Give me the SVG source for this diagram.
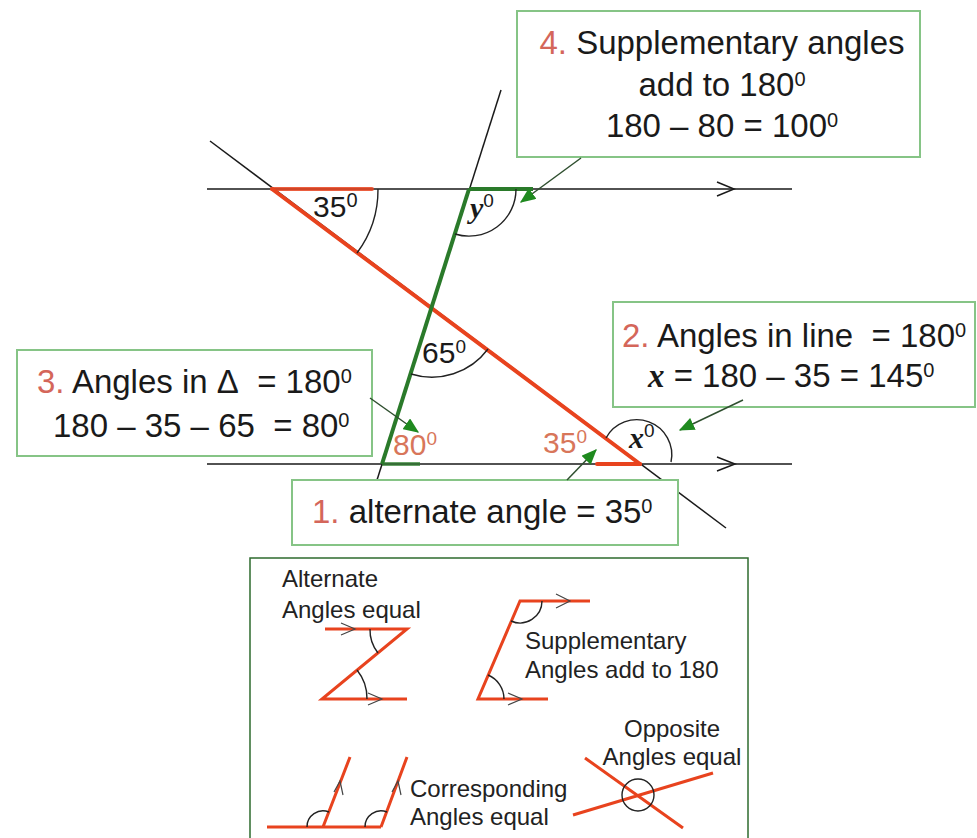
<svg xmlns="http://www.w3.org/2000/svg" width="977" height="838" viewBox="0 0 977 838">
<defs>
<style>
.thin{fill:none;stroke:#1a1a1a;stroke-width:1.5}
.arc{fill:none;stroke:#222;stroke-width:1.4}
.red{fill:none;stroke:#e8431e;stroke-width:4;stroke-linecap:round}
.redl{fill:none;stroke:#e8431e;stroke-width:3}
.grn{fill:none;stroke:#2a7a2a;stroke-width:4}
.box{fill:#fff;stroke:#86c486;stroke-width:2}
.t{font-family:"Liberation Sans",Arial,sans-serif;font-size:33px;fill:#1a1a1a}
.lab{font-family:"Liberation Sans",Arial,sans-serif;font-size:30px;fill:#1a1a1a}
.or{fill:#d8765a}
.num{fill:#d4665a}
.sup{font-size:20px}
.var{font-family:"Liberation Serif","Times New Roman",serif;font-style:italic;font-weight:bold}
.lg{font-family:"Liberation Sans",Arial,sans-serif;font-size:24px;fill:#222}
.conn{fill:none;stroke:#2f4f2f;stroke-width:1.5}
.chev{fill:none;stroke:#444;stroke-width:1.2}
</style>
<marker id="ah" viewBox="0 0 12 10" refX="11" refY="5" markerWidth="16" markerHeight="13" markerUnits="userSpaceOnUse" orient="auto">
<path d="M0,0 L12,5 L0,10 Z" fill="#1f8a1f"/>
</marker>
</defs>
<rect width="977" height="838" fill="#fff"/>

<g id="figure">
<path class="thin" d="M207,189 H792 M207,464 H792"/>
<path class="thin" d="M717,182 L734,189 L717,196 M717,457 L735,464 L717,471"/>
<path class="thin" d="M210,141 L726,528"/>
<path class="thin" d="M501,90 L377,480"/>
<path class="red" d="M272,189 L640,464"/>
<path class="red" d="M272,189 H372" stroke-opacity="0.85"/>
<path class="red" d="M597,464 H640"/>
<path class="grn" d="M469,189 L382,464"/>
<path class="grn" d="M469,189 H533" stroke-width="3"/>
<path class="grn" d="M382,464 H420" stroke-width="3" stroke-opacity="0.7"/>
</g>

<g id="angles">
<path class="arc" d="M378,189 A106 106 0 0 1 357,253"/>
<path class="arc" d="M516,189 A47 47 0 0 1 455,234"/>
<path class="arc" d="M488,349 A70 70 0 0 1 411,374"/>
<path class="arc" d="M606,438 A35 35 0 0 1 671,462"/>
<text class="lab" x="313" y="217">35<tspan class="sup" font-size="19" dy="-10">0</tspan></text>
<text class="lab" x="470" y="218"><tspan class="var">y</tspan><tspan font-size="19" dy="-11">0</tspan></text>
<text class="lab" x="422" y="363">65<tspan font-size="19" dy="-10">0</tspan></text>
<text class="lab or" x="393" y="455">80<tspan font-size="19" dy="-10">0</tspan></text>
<text class="lab or" x="543" y="453">35<tspan font-size="19" dy="-10">0</tspan></text>
<text class="lab" x="629" y="448"><tspan class="var">x</tspan><tspan font-size="19" dy="-11">0</tspan></text>
</g>

<g id="box4">
<rect class="box" x="517" y="11" width="403" height="146"/>
<text class="t" x="722" y="54" text-anchor="middle"><tspan class="num">4.</tspan> Supplementary angles</text>
<text class="t" x="722" y="96" text-anchor="middle">add to 180<tspan class="sup" dy="-10">0</tspan></text>
<text class="t" x="722" y="137" text-anchor="middle">180 – 80 = 100<tspan class="sup" dy="-10">0</tspan></text>
</g>

<g id="box3">
<rect class="box" x="17" y="350" width="355" height="106"/>
<text class="t" x="37" y="393"><tspan class="num">3.</tspan> Angles in Δ&#160; = 180<tspan class="sup" dy="-10">0</tspan></text>
<text class="t" x="53" y="437">180 – 35 – 65&#160; = 80<tspan class="sup" dy="-10">0</tspan></text>
</g>

<g id="box2">
<rect class="box" x="613" y="302" width="362" height="105"/>
<text class="t" x="622" y="347"><tspan class="num">2.</tspan> Angles in line&#160; = 180<tspan class="sup" dy="-10">0</tspan></text>
<text class="t" x="648" y="387"><tspan class="var">x</tspan> = 180 – 35 = 145<tspan class="sup" dy="-10">0</tspan></text>
</g>

<g id="box1">
<rect class="box" x="292" y="480" width="386" height="65"/>
<text class="t" x="312" y="523"><tspan class="num">1.</tspan> alternate angle = 35<tspan class="sup" dy="-10">0</tspan></text>
</g>

<g id="connectors">
<path class="conn" d="M581,158 L521,202" marker-end="url(#ah)"/>
<path class="conn" d="M743,400 L680,430" marker-end="url(#ah)"/>
<path class="conn" d="M370,398 L418,432" marker-end="url(#ah)"/>
<path class="conn" d="M567,480 L596,450" marker-end="url(#ah)"/>
</g>

<g id="legend">
<rect x="250" y="558" width="498" height="290" fill="#fff" stroke="#2e6b2e" stroke-width="1.5"/>
<text class="lg" x="282" y="587">Alternate</text>
<text class="lg" x="282" y="618">Angles equal</text>
<path class="redl" d="M325,629 H407 L322,699 H407"/>
<path class="chev" d="M341,623 L355,629 L341,635 M368,693 L382,699 L368,705"/>
<path class="arc" d="M370,629 A37 37 0 0 0 378,653"/>
<path class="arc" d="M357,670 A45 45 0 0 1 367,699"/>

<path class="redl" d="M590,601 H520 L478,699 H548"/>
<path class="chev" d="M556,594 L570,601 L556,608 M508,693 L522,699 L508,705"/>
<path class="arc" d="M542,601 A22 22 0 0 1 511,621"/>
<path class="arc" d="M488,675 A26 26 0 0 1 504,699"/>
<text class="lg" x="525" y="649">Supplementary</text>
<text class="lg" x="525" y="678">Angles add to 180</text>

<path class="redl" d="M267,827 H381 M323,827 L350,757 M381,827 L407,757"/>
<path class="arc" d="M307,827 A16 16 0 0 1 329,812"/>
<path class="arc" d="M365,827 A16 16 0 0 1 387,812"/>
<path class="chev" d="M334,792 L340,781 L343,795 M392,792 L398,781 L401,795"/>
<text class="lg" x="410" y="797">Corresponding</text>
<text class="lg" x="410" y="825">Angles equal</text>

<path class="redl" d="M585,758 L683,828 M573,815 L713,773"/>
<circle class="arc" cx="638" cy="795" r="16"/>
<text class="lg" x="672" y="737" text-anchor="middle">Opposite</text>
<text class="lg" x="672" y="765" text-anchor="middle">Angles equal</text>
</g>
</svg>
